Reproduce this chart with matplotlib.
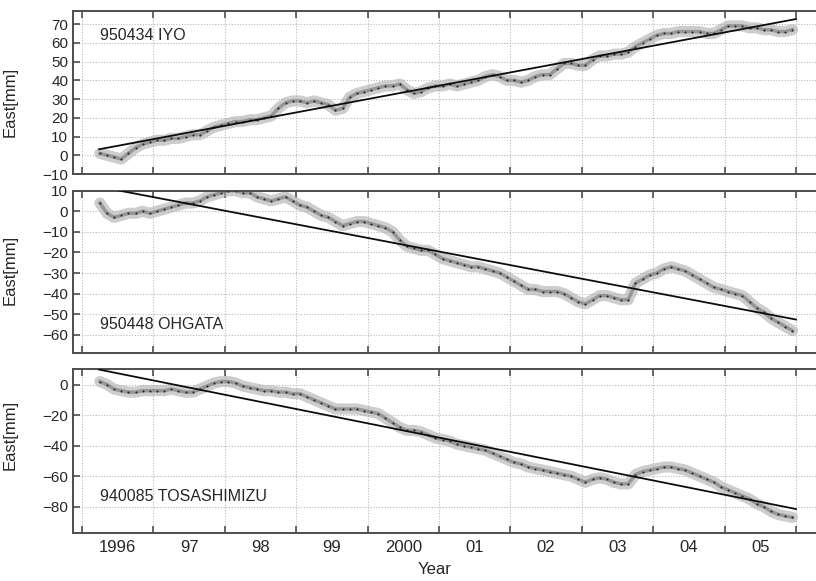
import matplotlib.pyplot as plt
import numpy as np

plt.rcParams["font.family"] = ["Liberation Sans", "DejaVu Sans"]

# sample epochs (decimal year), shared by all three stations
years = [1996.25 + 0.1 * i for i in range(98)]

iyo = [1, 0, -1, -2, 1, 4, 6, 7, 8, 8,
       9, 9, 10, 11, 11, 13, 15, 16, 17, 18,
       18, 19, 19, 20, 21, 25, 28, 29, 29, 28,
       29, 28, 27, 24, 25, 31, 33, 34, 35, 36,
       37, 37, 38, 35, 33, 34, 36, 37, 37, 38,
       37, 38, 39, 40, 42, 43, 42, 40, 40, 39,
       40, 42, 43, 43, 46, 49, 49, 48, 48, 51,
       53, 53, 54, 54, 55, 58, 60, 62, 64, 65,
       65, 66, 66, 66, 66, 65, 65, 67, 69, 69,
       69, 68, 68, 67, 67, 66, 66, 67]

ohgata = [4, -1, -3, -2, -1, -1, 0, -1, 0, 1,
          2, 3, 4, 4, 5, 7, 8, 9, 10, 10,
          9, 9, 7, 6, 5, 6, 7, 5, 3, 2,
          0, -2, -3, -5, -7, -6, -5, -5, -6, -7,
          -8, -10, -14, -17, -18, -19, -19, -21, -23, -24,
          -25, -26, -27, -27, -28, -29, -30, -32, -34, -36,
          -38, -38, -39, -39, -39, -40, -42, -44, -45, -43,
          -41, -41, -42, -43, -43, -35, -33, -31, -30, -28,
          -27, -28, -29, -31, -33, -35, -37, -38, -39, -40,
          -41, -44, -47, -49, -52, -54, -56, -58]

tosa = [2, 0, -3, -4, -5, -5, -4, -4, -4, -4,
        -3, -4, -5, -5, -3, -1, 1, 2, 2, 1,
        -1, -2, -3, -4, -4, -5, -5, -6, -6, -8,
        -10, -12, -14, -16, -16, -16, -16, -17, -18, -19,
        -22, -25, -28, -30, -30, -31, -33, -35, -36, -37,
        -39, -40, -41, -42, -43, -45, -47, -49, -51, -52,
        -54, -55, -56, -57, -58, -59, -60, -62, -64, -62,
        -61, -62, -64, -65, -65, -59, -57, -56, -55, -54,
        -54, -55, -56, -58, -60, -62, -64, -67, -69, -71,
        -73, -75, -78, -80, -83, -85, -86, -87]

# linear trends: [start, end]
trend_years = [1996.24, 2006.0]
iyo_trend = [3.2, 72.7]
ohgata_trend = [11.9, -52.6]
tosa_trend = [9.8, -81.5]

names = ["950434 IYO", "950448 OHGATA", "940085 TOSASHIMIZU"]
series = [iyo, ohgata, tosa]
trends = [iyo_trend, ohgata_trend, tosa_trend]
ylims = [(-10, 77), (-69, 10), (-97, 10)]
yticks = [range(-10, 71, 10), range(-60, 11, 10), range(-80, 1, 20)]
label_y = [0.85, 0.175, 0.22]
ylabel_y = [0.44, 0.51, 0.6]

year_labels = ["1996", "97", "98", "99", "2000", "01", "02", "03", "04", "05"]

fig = plt.figure(figsize=(8.16, 5.81), dpi=100)
boxes = [(0.0895, 0.7005, 0.9105, 0.2806),
         (0.0895, 0.3919, 0.9105, 0.2799),
         (0.0895, 0.0831, 0.9105, 0.2813)]

for k in range(3):
    ax = fig.add_axes(boxes[k])
    ax.plot(years, series[k], color="0.68", lw=8, alpha=0.6,
            solid_capstyle="round", zorder=2)
    ax.plot(years, series[k], color="0.45", lw=2.5, alpha=0.6, zorder=2)
    ax.plot(years, series[k], ".", ms=3, color="0.15", mew=0, zorder=3)
    ax.plot(trend_years, trends[k], color="0.05", lw=1.3, zorder=4)

    ax.set_xlim(1995.874, 2006.28)
    ax.set_ylim(*ylims[k])
    ax.set_yticks(list(yticks[k]))
    ax.set_xticks(np.arange(1996, 2007, 1))
    ax.set_xticks(np.arange(1996.5, 2006, 1), minor=True)
    ax.set_xticklabels([])
    if k == 2:
        ax.set_xticklabels(year_labels, minor=True)
    ax.tick_params(axis="x", which="major", direction="in", length=5,
                   width=1.2, color="0.3", top=True)
    ax.tick_params(axis="x", which="minor", length=0, labelsize=12,
                   pad=5, labelcolor="0.15")
    ax.tick_params(axis="y", direction="in", length=5, width=1.2,
                   color="0.3", labelsize=11, labelcolor="0.15")
    ax.grid(True, which="major", color="0.72", ls=(0, (1, 1.5)), lw=0.8)
    for side in ["left", "top", "bottom"]:
        ax.spines[side].set_color("0.3")
        ax.spines[side].set_linewidth(1.4)
    ax.spines["right"].set_visible(False)

    ax.set_ylabel("East[mm]", fontsize=12, color="0.15")
    ax.yaxis.set_label_coords(-0.074, ylabel_y[k])
    ax.text(0.036, label_y[k], names[k], transform=ax.transAxes,
            fontsize=11.5, color="0.15", va="center", ha="left")

fig.text(0.533, 0.012, "Year", fontsize=12, color="0.15", ha="center")

fig.savefig("out.png", dpi=100)
